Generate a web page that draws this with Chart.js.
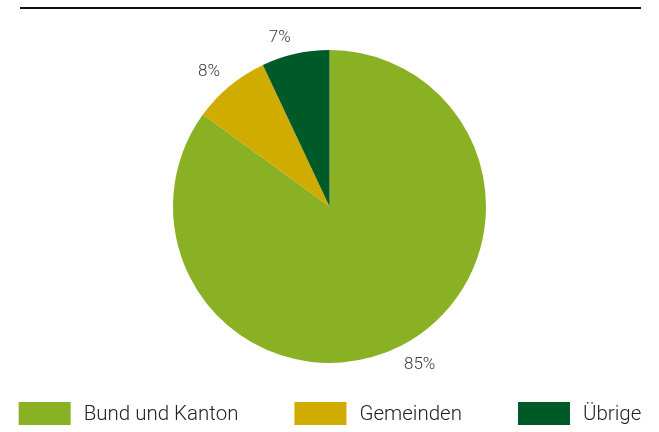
<!DOCTYPE html>
<html>
<head>
<meta charset="utf-8">
<script src="https://cdn.jsdelivr.net/npm/chart.js@4"></script>
<style>
  html, body { margin: 0; padding: 0; background: #fff; }
  #wrap { width: 659px; height: 432px; }
</style>
</head>
<body>
<div id="wrap"><canvas id="pie"></canvas></div>
<script>
var categories = ['Bund und Kanton', 'Gemeinden', 'Übrige'];
var shares = [85, 8, 7];
var colors = ['#8AB023', '#D1AC00', '#005A27'];

document.addEventListener("DOMContentLoaded", function () {
    Chart.defaults.font.family = 'Roboto';
    Chart.defaults.font.weight = '300';
    Chart.defaults.color = '#2b2b2b';

    // thin black rule above the chart
    var topRule = {
        id: 'topRule',
        beforeDraw: function (chart) {
            var c = chart.ctx;
            c.save();
            c.strokeStyle = '#111';
            c.lineWidth = 2;
            c.beginPath();
            c.moveTo(20, 8);
            c.lineTo(641, 8);
            c.stroke();
            c.restore();
        }
    };

    // percent labels outside each slice: the label corner nearest
    // the centre sits on the slice's middle ray, just past the rim
    var outerLabels = {
        id: 'outerLabels',
        afterDatasetsDraw: function (chart) {
            var c = chart.ctx;
            var meta = chart.getDatasetMeta(0);
            c.save();
            c.font = '300 17px Roboto';
            c.fillStyle = '#3a3a3a';
            c.textAlign = 'center';
            c.textBaseline = 'middle';
            meta.data.forEach(function (arc, i) {
                var p = arc.getProps(['x', 'y', 'startAngle', 'endAngle', 'outerRadius'], true);
                var mid = (p.startAngle + p.endAngle) / 2;
                var cos = Math.cos(mid), sin = Math.sin(mid);
                var txt = shares[i] + '%';
                var w = c.measureText(txt).width;
                var r = p.outerRadius + 12;
                var x = p.x + cos * r + Math.sign(cos) * w / 2 - 2;
                var y = p.y + sin * r + Math.sign(sin) * 6.5 + 2;
                c.fillText(txt, x, y);
            });
            c.restore();
        }
    };

    // one-row legend at the bottom, boxes then labels
    var bottomLegend = {
        id: 'bottomLegend',
        afterDraw: function (chart) {
            var c = chart.ctx;
            var labels = chart.data.labels;
            var fills = chart.data.datasets[0].backgroundColor;
            var boxW = 52, boxH = 23, gap = 14, spacing = 55;
            c.save();
            c.font = '300 20.5px Roboto';
            var widths = labels.map(function (l) { return boxW + gap + c.measureText(l).width; });
            var total = widths.reduce(function (a, b) { return a + b; }, 0) + spacing * (labels.length - 1);
            var x = (chart.width - total) / 2 + 1;
            var top = 402;
            c.textBaseline = 'middle';
            c.textAlign = 'left';
            labels.forEach(function (l, i) {
                c.fillStyle = fills[i];
                c.fillRect(x, top, boxW, boxH);
                c.fillStyle = '#222';
                c.fillText(l, x + boxW + gap - 1, top + boxH / 2 + 1);
                x += widths[i] + spacing;
            });
            c.restore();
        }
    };

    var ctx = document.getElementById('pie').getContext('2d');
    var pieChart = new Chart(ctx, {
        type: 'pie',
        data: {
            labels: categories,
            datasets: [{
                data: shares,
                backgroundColor: colors,
                borderWidth: 0,
                radius: 156.5,
                clip: false
            }]
        },
        options: {
            responsive: true,
            maintainAspectRatio: false,
            animation: false,
            layout: {
                padding: { top: 50, bottom: 69, left: 0, right: 0 }
            },
            plugins: {
                legend: { display: false },
                tooltip: { enabled: false }
            }
        },
        plugins: [topRule, outerLabels, bottomLegend]
    });
});
</script>
</body>
</html>
